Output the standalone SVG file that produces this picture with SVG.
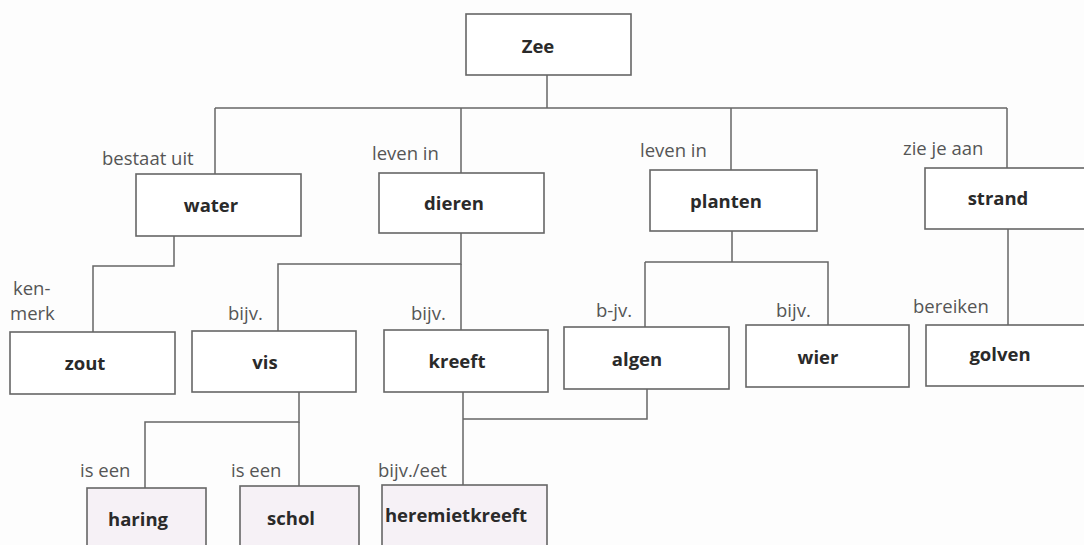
<svg xmlns="http://www.w3.org/2000/svg" width="1084" height="545" viewBox="0 0 1084 545">
<style>
.bg{fill:#fdfdfd}
.box{fill:#ffffff;stroke:#666;stroke-width:1.6}
.box2{fill:#f6f1f6;stroke:#666;stroke-width:1.6}
.t{font-family:"Open Sans","Noto Sans",sans-serif;font-weight:bold;font-size:18.5px;fill:#2a2a2a;text-anchor:middle}
.l{font-family:"Open Sans","Noto Sans",sans-serif;font-size:18.5px;fill:#555}
.c path{fill:none;stroke:#666;stroke-width:1.5}
</style>
<rect class="bg" x="0" y="0" width="1084" height="545"/>
<g class="c" id="connectors">
<path d="M547 75 V108"/>
<path d="M215 108 H1007"/>
<path d="M215 108 V174"/>
<path d="M461 108 V173"/>
<path d="M731 108 V170"/>
<path d="M1007 108 V168"/>
<path d="M174 236 V266 H93 V332"/>
<path d="M461 233 V264 H278 V331"/>
<path d="M461 264 V330"/>
<path d="M732 231 V262"/>
<path d="M645 262 H828 V325"/>
<path d="M645 262 V327"/>
<path d="M1008 229 V325"/>
<path d="M299 392 V422 H145 V488"/>
<path d="M299 422 V486"/>
<path d="M463 392 V485"/>
<path d="M463 419 H647 V389"/>
</g>
<g id="labels">
<text class="l" x="102" y="165">bestaat uit</text>
<text class="l" x="372" y="160">leven in</text>
<text class="l" x="640" y="157">leven in</text>
<text class="l" x="903" y="155">zie je aan</text>
<text class="l" x="13" y="295">ken-</text>
<text class="l" x="10" y="320">merk</text>
<text class="l" x="228" y="320">bijv.</text>
<text class="l" x="411" y="320">bijv.</text>
<text class="l" x="596" y="317">b-jv.</text>
<text class="l" x="776" y="317">bijv.</text>
<text class="l" x="913" y="313">bereiken</text>
<text class="l" x="80" y="477">is een</text>
<text class="l" x="231" y="477">is een</text>
<text class="l" x="378" y="477">bijv./eet</text>
</g>
<g id="zee"><rect class="box" x="466" y="14" width="165" height="61"/><text class="t" x="538" y="53">Zee</text></g>
<g id="water"><rect class="box" x="136" y="174" width="165" height="62"/><text class="t" x="211" y="212">water</text></g>
<g id="dieren"><rect class="box" x="379" y="173" width="165" height="60"/><text class="t" x="454" y="210">dieren</text></g>
<g id="planten"><rect class="box" x="650" y="170" width="167" height="61"/><text class="t" x="726" y="208">planten</text></g>
<g id="strand"><rect class="box" x="925" y="168" width="170" height="61"/><text class="t" x="998" y="205">strand</text></g>
<g id="zout"><rect class="box" x="10" y="332" width="165" height="62"/><text class="t" x="85" y="370">zout</text></g>
<g id="vis"><rect class="box" x="192" y="331" width="164" height="61"/><text class="t" x="265" y="369">vis</text></g>
<g id="kreeft"><rect class="box" x="384" y="330" width="164" height="62"/><text class="t" x="457" y="368">kreeft</text></g>
<g id="algen"><rect class="box" x="564" y="327" width="165" height="62"/><text class="t" x="637" y="366">algen</text></g>
<g id="wier"><rect class="box" x="746" y="325" width="163" height="62"/><text class="t" x="818" y="364">wier</text></g>
<g id="golven"><rect class="box" x="926" y="325" width="170" height="61"/><text class="t" x="1000" y="361">golven</text></g>
<g id="haring"><rect class="box2" x="87" y="488" width="119" height="70"/><text class="t" x="138" y="526">haring</text></g>
<g id="schol"><rect class="box2" x="240" y="486" width="119" height="70"/><text class="t" x="291" y="525">schol</text></g>
<g id="heremietkreeft"><rect class="box2" x="382" y="485" width="165" height="70"/><text class="t" x="456" y="522">heremietkreeft</text></g>
</svg>
